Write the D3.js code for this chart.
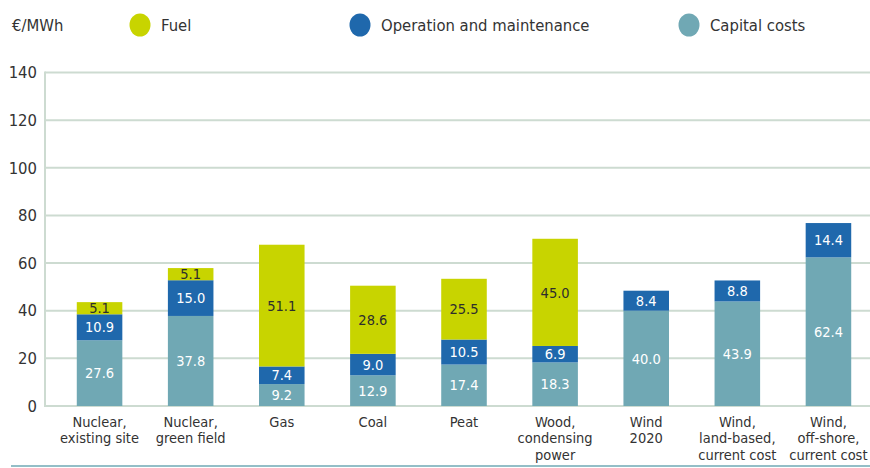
<!DOCTYPE html>
<html>
<head>
<meta charset="utf-8">
<script src="https://cdn.jsdelivr.net/npm/d3@7/dist/d3.min.js"></script>
<style>
  html, body { margin: 0; padding: 0; background: #fff; }
  svg { display: block; font-family: "Liberation Sans Narrow", "DejaVu Sans Condensed", "Roboto", sans-serif; }
</style>
</head>
<body>
<svg id="chart" width="870" height="468"></svg>
<script>
const categories = [
  ["Nuclear,", "existing site"],
  ["Nuclear,", "green field"],
  ["Gas"],
  ["Coal"],
  ["Peat"],
  ["Wood,", "condensing", "power"],
  ["Wind", "2020"],
  ["Wind,", "land-based,", "current cost"],
  ["Wind,", "off-shore,", "current cost"]
];
const capitalCosts = [27.6, 37.8, 9.2, 12.9, 17.4, 18.3, 40.0, 43.9, 62.4];
const operationMaintenance = [10.9, 15.0, 7.4, 9.0, 10.5, 6.9, 8.4, 8.8, 14.4];
const fuel = [5.1, 5.1, 51.1, 28.6, 25.5, 45.0, 0, 0, 0];
const yTicks = [0, 20, 40, 60, 80, 100, 120, 140];
const seriesNames = ["Fuel", "Operation and maintenance", "Capital costs"];
const unitLabel = "€/MWh";

const colors = { cap: "#70a8b4", om: "#1f68ac", fuel: "#c8d400" };
const gridColor = "#cddbd1";

const svg = d3.select("#chart");
const keys = categories.map((c, i) => i);

const x = d3.scaleBand().domain(keys).range([54, 874]).paddingInner(0.5).paddingOuter(0.25);
const y = d3.scaleLinear().domain([0, 140]).range([406, 72.5]);

// gridlines
svg.append("g").selectAll("line").data(yTicks).join("line")
  .attr("x1", 45).attr("x2", 870)
  .attr("y1", d => y(d)).attr("y2", d => y(d))
  .attr("stroke", gridColor).attr("stroke-width", 2);

// vertical axis line
svg.append("line")
  .attr("x1", 45).attr("x2", 45)
  .attr("y1", y(140) - 1).attr("y2", y(0) + 1)
  .attr("stroke", gridColor).attr("stroke-width", 2);

// y tick labels
svg.append("g").selectAll("text").data(yTicks).join("text")
  .attr("x", 37).attr("y", d => y(d))
  .attr("dy", "0.35em")
  .attr("text-anchor", "end")
  .attr("font-size", 16.5)
  .attr("fill", "#333")
  .text(d => d);

// stacked data
const rows = keys.map(i => ({ i, cap: capitalCosts[i], om: operationMaintenance[i], fuel: fuel[i] }));
const stack = d3.stack().keys(["cap", "om", "fuel"]);
const layers = stack(rows);

const labelColor = { cap: "#ffffff", om: "#ffffff", fuel: "#2d2d2d" };

layers.forEach(layer => {
  const k = layer.key;
  const g = svg.append("g");
  g.selectAll("rect").data(layer.filter(d => d[1] - d[0] > 0)).join("rect")
    .attr("x", d => x(d.data.i))
    .attr("width", x.bandwidth())
    .attr("y", d => y(d[1]))
    .attr("height", d => y(d[0]) - y(d[1]))
    .attr("fill", colors[k]);
  g.selectAll("text").data(layer.filter(d => d[1] - d[0] > 0)).join("text")
    .attr("x", d => x(d.data.i) + x.bandwidth() / 2)
    .attr("y", d => (y(d[0]) + y(d[1])) / 2)
    .attr("dy", "0.36em")
    .attr("text-anchor", "middle")
    .attr("font-size", 14.5)
    .attr("fill", labelColor[k])
    .text(d => d.data[k].toFixed(1));
});

// category labels
const catG = svg.append("g");
categories.forEach((lines, i) => {
  const t = catG.append("text")
    .attr("x", x(i) + x.bandwidth() / 2)
    .attr("y", 427)
    .attr("text-anchor", "middle")
    .attr("font-size", 14.5)
    .attr("fill", "#333");
  lines.forEach((ln, j) => {
    t.append("tspan").attr("x", x(i) + x.bandwidth() / 2).attr("dy", j === 0 ? 0 : 16.3).text(ln);
  });
});

// bottom rule
svg.append("line")
  .attr("x1", 11).attr("x2", 870)
  .attr("y1", 466).attr("y2", 466)
  .attr("stroke", "#6fa8b4").attr("stroke-width", 1.5);

// unit and legend
svg.append("text").attr("x", 12).attr("y", 25).attr("dy", "0.35em")
  .attr("font-size", 16.5).attr("fill", "#333").text(unitLabel);

const legendItems = [
  { name: seriesNames[0], color: colors.fuel, cx: 140 },
  { name: seriesNames[1], color: colors.om, cx: 360 },
  { name: seriesNames[2], color: colors.cap, cx: 689 }
];
const lg = svg.append("g").selectAll("g").data(legendItems).join("g");
lg.append("ellipse").attr("cx", d => d.cx).attr("cy", 25).attr("rx", 10.5).attr("ry", 11.5).attr("fill", d => d.color);
lg.append("text").attr("x", d => d.cx + 21).attr("y", 25).attr("dy", "0.35em")
  .attr("font-size", 16.5).attr("fill", "#333").text(d => d.name);
</script>
</body>
</html>
